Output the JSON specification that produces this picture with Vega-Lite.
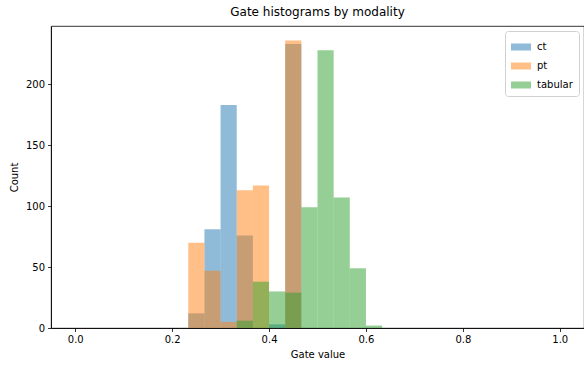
{
  "$schema": "https://vega.github.io/schema/vega-lite/v6.json",
  "width": 533,
  "height": 302,
  "autosize": {"type": "none"},
  "padding": {"left": 51, "top": 26, "right": 0, "bottom": 39},
  "background": "white",
  "title": {"text": "Gate histograms by modality", "fontSize": 12, "fontWeight": "normal", "font": "DejaVu Sans", "color": "black", "offset": 7, "anchor": "middle"},
  "config": {
    "view": {"stroke": "black", "strokeWidth": 0.8},
    "axis": {"grid": false, "domainColor": "black", "tickColor": "black", "labelColor": "black", "titleColor": "black", "labelFont": "DejaVu Sans", "titleFont": "DejaVu Sans", "labelFontSize": 10, "titleFontSize": 10, "titleFontWeight": "normal", "tickSize": 3.5, "domainWidth": 0.8, "tickWidth": 0.8}
  },
  "data": {"values": [
    {"modality": "ct", "start": 0.23333, "end": 0.26667, "count": 12},
    {"modality": "ct", "start": 0.26667, "end": 0.30000, "count": 81},
    {"modality": "ct", "start": 0.30000, "end": 0.33333, "count": 183},
    {"modality": "ct", "start": 0.33333, "end": 0.36667, "count": 76},
    {"modality": "ct", "start": 0.40000, "end": 0.43333, "count": 3},
    {"modality": "ct", "start": 0.43333, "end": 0.46667, "count": 233},
    {"modality": "pt", "start": 0.23333, "end": 0.26667, "count": 70},
    {"modality": "pt", "start": 0.26667, "end": 0.30000, "count": 47},
    {"modality": "pt", "start": 0.30000, "end": 0.33333, "count": 5},
    {"modality": "pt", "start": 0.33333, "end": 0.36667, "count": 113},
    {"modality": "pt", "start": 0.36667, "end": 0.40000, "count": 117},
    {"modality": "pt", "start": 0.43333, "end": 0.46667, "count": 236},
    {"modality": "tabular", "start": 0.33333, "end": 0.36667, "count": 6},
    {"modality": "tabular", "start": 0.36667, "end": 0.40000, "count": 38},
    {"modality": "tabular", "start": 0.40000, "end": 0.43333, "count": 30},
    {"modality": "tabular", "start": 0.43333, "end": 0.46667, "count": 29},
    {"modality": "tabular", "start": 0.46667, "end": 0.50000, "count": 99},
    {"modality": "tabular", "start": 0.50000, "end": 0.53333, "count": 228},
    {"modality": "tabular", "start": 0.53333, "end": 0.56667, "count": 107},
    {"modality": "tabular", "start": 0.56667, "end": 0.60000, "count": 49},
    {"modality": "tabular", "start": 0.60000, "end": 0.63333, "count": 2}
  ]},
  "mark": {"type": "bar", "opacity": 0.5, "strokeWidth": 0},
  "encoding": {
    "x": {"field": "start", "type": "quantitative", "scale": {"domain": [-0.05, 1.05], "nice": false, "zero": false}, "axis": {"values": [0, 0.2, 0.4, 0.6, 0.8, 1.0], "format": ".1f", "title": "Gate value", "titlePadding": 5, "labelPadding": 3, "labelFlush": false}},
    "x2": {"field": "end"},
    "y": {"field": "count", "type": "quantitative", "scale": {"domain": [0, 247.8], "nice": false}, "axis": {"values": [0, 50, 100, 150, 200], "title": "Count", "titlePadding": 6, "labelPadding": 3}},
    "y2": {"datum": 0},
    "color": {"field": "modality", "type": "nominal", "scale": {"domain": ["ct", "pt", "tabular"], "range": ["#1f77b4", "#ff7f0e", "#2ca02c"]},
      "legend": {"title": null, "orient": "none", "legendX": 454, "legendY": 5, "symbolType": "M-1,-0.35H1V0.35H-1Z", "symbolSize": 400, "symbolOpacity": 0.5, "symbolStrokeWidth": 0, "labelFont": "DejaVu Sans", "labelFontSize": 10, "labelColor": "black", "rowPadding": 4, "padding": 6, "strokeColor": "#d0d0d0", "fillColor": "white", "cornerRadius": 3, "labelOffset": 6}}
  }
}
